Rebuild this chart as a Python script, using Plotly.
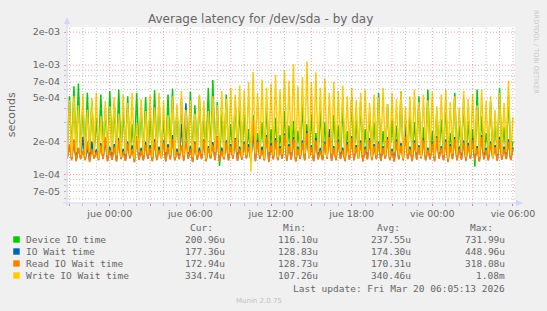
import math
import pandas as pd
import plotly.graph_objects as go

# ---------------- data (microseconds, 10-minute samples) ----------------
dev_us = [
    160, 520, 150, 640, 140, 680, 155, 430, 150, 560, 145, 470, 160, 330, 150, 540, 165, 390, 150, 580,
    155, 450, 140, 600, 150, 380, 165, 520, 150, 290, 145, 560, 160, 420, 150, 510, 140, 360, 155, 590,
    150, 470, 160, 330, 145, 540, 150, 610, 155, 400, 140, 490, 160, 300, 150, 570, 145, 430, 150, 520,
    160, 350, 150, 620, 140, 732, 150, 460, 120, 380, 155, 540, 150, 290, 160, 470, 145, 410, 150, 360,
    155, 260, 140, 350, 150, 240, 160, 300, 150, 420, 145, 260, 155, 330, 150, 230, 160, 380, 150, 280,
    145, 310, 150, 250, 160, 440, 150, 290, 145, 360, 155, 240, 150, 400, 140, 300, 155, 230, 150, 350,
    160, 280, 145, 420, 150, 250, 155, 500, 150, 320, 140, 460, 155, 260, 150, 370, 160, 300, 145, 560,
    150, 250, 155, 440, 145, 320, 160, 280, 150, 580, 140, 260, 155, 370, 150, 300, 160, 520, 145, 270,
    150, 600, 155, 250, 145, 380, 160, 320, 150, 450, 140, 240, 155, 560, 150, 280, 160, 470, 145, 310,
    150, 260, 118, 600, 155, 340, 150, 240, 160, 460, 145, 300, 150, 620, 155, 270, 150, 520, 160, 201,
]
iowait_us = [
    142, 185, 138, 205, 135, 175, 140, 220, 136, 180, 133, 200, 141, 170, 137, 195, 139, 210, 134, 180,
    138, 190, 133, 215, 140, 172, 135, 200, 142, 185, 131, 225, 138, 175, 136, 198, 141, 186, 134, 210,
    137, 180, 142, 205, 133, 190, 139, 230, 136, 172, 140, 290, 135, 449, 141, 182, 132, 200, 138, 176,
    140, 210, 134, 182, 142, 198, 137, 225, 133, 176, 139, 205, 136, 190, 141, 215, 135, 180, 138, 200,
    142, 190, 137, 250, 134, 210, 140, 180, 136, 230, 132, 195, 139, 215, 137, 182, 141, 240, 135, 190,
    138, 220, 133, 180, 140, 205, 136, 250, 142, 186, 134, 215, 139, 175, 137, 200, 141, 260, 135, 182,
    137, 210, 140, 176, 134, 198, 138, 225, 136, 186, 142, 205, 133, 180, 139, 215, 137, 190, 140, 200,
    135, 182, 141, 220, 137, 172, 133, 210, 139, 195, 136, 300, 140, 180, 134, 205, 138, 186, 142, 215,
    136, 176, 139, 200, 134, 225, 141, 182, 137, 210, 132, 190, 140, 220, 136, 180, 138, 205, 135, 195,
    141, 215, 137, 182, 133, 230, 139, 176, 136, 200, 142, 186, 135, 220, 138, 180, 140, 210, 137, 177,
]
read_us = [
    140, 190, 135, 210, 132, 175, 138, 165, 135, 200, 130, 170, 140, 160, 135, 185, 138, 220, 132, 168,
    136, 180, 131, 205, 138, 162, 133, 192, 140, 172, 129, 215, 136, 165, 134, 188, 139, 175, 132, 200,
    135, 168, 140, 196, 131, 178, 137, 210, 134, 162, 138, 185, 133, 200, 139, 172, 130, 192, 136, 165,
    138, 205, 132, 175, 140, 188, 135, 220, 131, 165, 137, 196, 134, 182, 139, 210, 133, 172, 136, 192,
    140, 178, 135, 318, 132, 200, 138, 168, 134, 220, 130, 185, 137, 205, 135, 175, 139, 230, 133, 182,
    136, 210, 131, 172, 138, 196, 134, 240, 140, 178, 132, 205, 137, 165, 135, 192, 139, 220, 133, 175,
    135, 200, 138, 168, 132, 188, 136, 215, 134, 178, 140, 196, 131, 172, 137, 205, 135, 182, 138, 192,
    133, 175, 139, 210, 135, 165, 131, 200, 137, 185, 134, 220, 138, 172, 132, 196, 136, 178, 140, 205,
    134, 168, 137, 192, 132, 215, 139, 175, 135, 200, 130, 182, 138, 210, 134, 172, 136, 196, 133, 185,
    139, 205, 135, 175, 131, 220, 137, 168, 134, 192, 140, 178, 133, 210, 136, 172, 138, 200, 135, 173,
]
write_us = [
    150, 480, 145, 520, 160, 430, 150, 550, 145, 390, 160, 500, 150, 560, 140, 340, 155, 470, 150, 420,
    160, 510, 150, 360, 145, 540, 155, 450, 150, 560, 140, 300, 160, 490, 150, 380, 155, 530, 145, 410,
    150, 560, 140, 470, 160, 350, 150, 520, 145, 440, 155, 580, 150, 390, 160, 480, 145, 360, 150, 540,
    155, 470, 140, 380, 150, 520, 160, 430, 150, 580, 145, 490, 155, 620, 150, 540, 160, 650, 145, 590,
    150, 700, 107, 870, 155, 560, 150, 740, 140, 620, 160, 680, 150, 810, 145, 600, 155, 900, 150, 720,
    160, 1020, 145, 640, 150, 780, 155, 1080, 140, 700, 150, 860, 160, 620, 150, 760, 145, 560, 155, 700,
    150, 580, 160, 650, 145, 520, 150, 620, 155, 480, 140, 560, 150, 600, 160, 450, 145, 540, 150, 500,
    155, 620, 150, 440, 145, 560, 160, 490, 150, 580, 140, 420, 155, 520, 150, 600, 160, 460, 145, 540,
    150, 480, 155, 570, 145, 420, 160, 540, 150, 600, 140, 460, 155, 520, 150, 410, 160, 580, 145, 490,
    150, 550, 155, 430, 145, 600, 160, 470, 150, 520, 140, 390, 155, 560, 150, 450, 160, 720, 150, 335,
]

names = ["Device IO time", "IO Wait time", "Read IO Wait time", "Write IO Wait time"]
colors = ["#00CC00", "#0066B3", "#FF8000", "#FFCC00"]
cur_vals = ["200.96u", "177.36u", "172.94u", "334.74u"]
min_vals = ["116.10u", "128.83u", "128.73u", "107.26u"]
avg_vals = ["237.55u", "174.30u", "170.31u", "340.46u"]
max_vals = ["731.99u", "448.96u", "318.08u", "1.08m"]

y_major = [7e-5, 1e-4, 2e-4, 5e-4, 7e-4, 1e-3, 2e-3]
y_major_text = ["7e-05", "1e-04", "2e-04", "5e-04", "7e-04", "1e-03", "2e-03"]
y_minor = [6e-5, 8e-5, 9e-5, 3e-4, 4e-4, 6e-4, 8e-4, 9e-4]

x_labels = ["jue 00:00", "jue 06:00", "jue 12:00", "jue 18:00", "vie 00:00", "vie 06:00"]

times = pd.date_range("2026-03-18 20:50", periods=len(dev_us), freq="10min")
series = [dev_us, iowait_us, read_us, write_us]

# ---------------- layout geometry (pixels) ----------------
WIDTH, HEIGHT = 547, 311
L, R, T, B = 67, 517, 27, 203
PW, PH = R - L, B - T
Y_LO, Y_HI = math.log10(5.5e-5), math.log10(2.23e-3)
X_LO, X_HI = "2026-03-18 20:49", "2026-03-20 06:09"


def fx(px):
    return (px - L) / PW


def fy(py):
    return (B - py) / PH


def yfrac(v):
    return (math.log10(v) - Y_LO) / (Y_HI - Y_LO)


FONT = "DejaVu Sans"
MONO = "DejaVu Sans Mono"
TXT = "#666666"
GRID = "rgba(150,150,150,0.55)"
MGRID = "rgba(220,60,60,0.45)"
AXIS = "#CFD6F8"

fig = go.Figure()
for vals, name, col in zip(series, names, colors):
    fig.add_trace(go.Scatter(
        x=times, y=[v * 1e-6 for v in vals], mode="lines", name=name,
        line=dict(color=col, width=1.5), showlegend=False, hoverinfo="skip",
    ))

shapes = []
# horizontal grid
for v in y_minor:
    f = yfrac(v)
    shapes.append(dict(type="line", xref="paper", yref="paper", x0=0, x1=1, y0=f, y1=f,
                       line=dict(color=GRID, width=1, dash="1px,2px"), layer="above"))
for v in y_major:
    f = yfrac(v)
    shapes.append(dict(type="line", xref="paper", yref="paper", x0=0, x1=1, y0=f, y1=f,
                       line=dict(color=MGRID, width=1, dash="1px,2px"), layer="above"))
# vertical grid
hours = pd.date_range("2026-03-18 21:00", "2026-03-20 06:00", freq="1h")
for h in hours:
    col = MGRID if h.hour % 3 == 0 else GRID
    shapes.append(dict(type="line", xref="x", yref="paper", x0=h, x1=h, y0=0, y1=1,
                       line=dict(color=col, width=1, dash="1px,2px"), layer="above"))
# axis lines and arrows
shapes.append(dict(type="line", xref="paper", yref="paper", x0=fx(63), x1=fx(520), y0=0, y1=0,
                   line=dict(color=AXIS, width=1), layer="above"))
shapes.append(dict(type="line", xref="paper", yref="paper", x0=0, x1=0, y0=fy(206), y1=fy(21),
                   line=dict(color=AXIS, width=1), layer="above"))
shapes.append(dict(type="path", xref="paper", yref="paper",
                   path=f"M {fx(64)},{fy(24)} L {fx(67)},{fy(17)} L {fx(70)},{fy(24)} Z",
                   fillcolor=AXIS, line=dict(color=AXIS, width=0), layer="above"))
shapes.append(dict(type="path", xref="paper", yref="paper",
                   path=f"M {fx(518)},{fy(200)} L {fx(525)},{fy(203)} L {fx(518)},{fy(206)} Z",
                   fillcolor=AXIS, line=dict(color=AXIS, width=0), layer="above"))

# legend squares
row_y = [239.5, 251.5, 263.5, 275.5]
for yy, col in zip(row_y, colors):
    shapes.append(dict(type="rect", xref="paper", yref="paper",
                       x0=fx(13), x1=fx(19.5), y0=fy(yy + 3.2), y1=fy(yy - 3.2),
                       fillcolor=col, line=dict(width=0)))

ann = []


def text(x, y, s, size, font=FONT, xanchor="left", color=TXT, angle=0):
    ann.append(dict(x=fx(x), y=fy(y), xref="paper", yref="paper", text=s, showarrow=False,
                    xanchor=xanchor, yanchor="middle", textangle=angle,
                    font=dict(family=font, size=size, color=color)))


text(261, 19, "Average latency for /dev/sda - by day", 12, xanchor="center")
text(11, 115, "seconds", 11, xanchor="center", angle=-90)
text(538, 52, "RRDTOOL / TOBI OETIKER", 6.5, xanchor="center", color="#C8C8C8", angle=90)

heads = ["Cur:", "Min:", "Avg:", "Max:"]
col_right = [228, 321, 415, 509]
for hdr, xr in zip(heads, col_right):
    text(xr - 12, 227.5, hdr, 9.5, font=MONO, xanchor="right")
for i, (yy, nm) in enumerate(zip(row_y, names)):
    text(24, yy, nm, 9.5, font=MONO)
    for vals, xr in zip([cur_vals, min_vals, avg_vals, max_vals], col_right):
        text(xr, yy, vals[i], 9.5, font=MONO, xanchor="right")
text(509, 288, "Last update: Fri Mar 20 06:05:13 2026", 9.5, font=MONO, xanchor="right")
text(260, 300.5, "Munin 2.0.75", 7, xanchor="center", color="#C0C0C0")

x_ticks = pd.date_range("2026-03-18 21:00", "2026-03-20 06:00", freq="3h")
x_ticktext = []
lab_i = 0
for t in x_ticks:
    if t.hour % 6 == 0:
        x_ticktext.append(x_labels[lab_i])
        lab_i += 1
    else:
        x_ticktext.append("")

fig.update_layout(
    width=WIDTH, height=HEIGHT,
    margin=dict(l=L, r=WIDTH - R, t=T, b=HEIGHT - B, pad=0),
    paper_bgcolor="#F0F0F0", plot_bgcolor="#FFFFFF",
    showlegend=False, shapes=shapes, annotations=ann,
    xaxis=dict(type="date", range=[X_LO, X_HI], showgrid=False, zeroline=False, showline=False,
               tickmode="array", tickvals=list(x_ticks), ticktext=x_ticktext,
               ticks="outside", ticklen=2, tickcolor=MGRID, tickwidth=1,
               tickfont=dict(family=FONT, size=9.5, color=TXT),
               minor=dict(dtick=3600000, ticks="outside", ticklen=2, tickcolor=GRID, showgrid=False)),
    yaxis=dict(type="log", range=[Y_LO, Y_HI], showgrid=False, zeroline=False, showline=False,
               tickmode="array", tickvals=y_major, ticktext=y_major_text,
               ticks="outside", ticklen=2, tickcolor=MGRID, tickwidth=1,
               ticklabelstandoff=2,
               tickfont=dict(family=FONT, size=9.5, color=TXT),
               minor=dict(tickmode="array", tickvals=y_minor, ticks="outside", ticklen=2,
                          tickcolor=GRID, showgrid=False)),
)

fig.write_html("out.html")
